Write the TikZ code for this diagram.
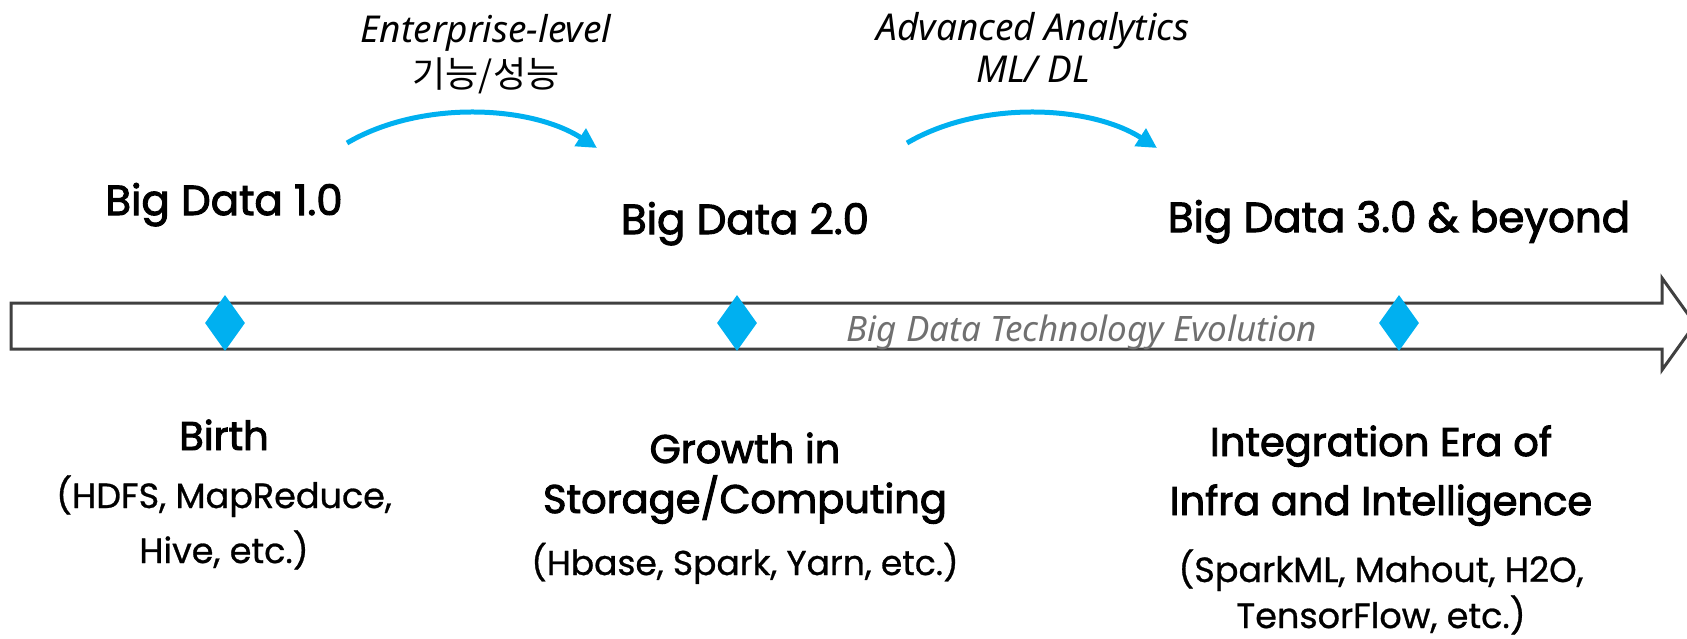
\documentclass[tikz,border=0pt]{standalone}
\usepackage{fontspec}
\setmainfont{Poppins}
\newfontfamily\heavyfont{Poppins}[FakeBold=2.4]
\newfontfamily\midfont{Poppins}[FakeBold=0.8]
\newfontfamily\labfont{Noto Sans}
\newfontfamily\krfont{Noto Sans CJK KR}
\usetikzlibrary{arrows.meta,shapes.geometric}
\definecolor{blu}{HTML}{00B0F0}
\definecolor{outl}{HTML}{404040}
\definecolor{gry}{HTML}{707070}
\tikzset{
  era/.style={anchor=base,inner sep=0pt,font=\heavyfont\fontsize{42}{48}\selectfont},
  head/.style={anchor=base,inner sep=0pt,font=\heavyfont\fontsize{40}{46}\selectfont},
  sub/.style={anchor=base,inner sep=0pt,font=\midfont\fontsize{35}{40}\selectfont},
  lab/.style={anchor=base,inner sep=0pt,font=\labfont\itshape\fontsize{37}{42}\selectfont},
  milestone/.style={shape=diamond,fill=blu,draw=none,inner sep=0pt,minimum width=40pt,minimum height=56pt},
  hop/.style={draw=blu,line width=5pt,-{Triangle[length=20pt,width=20pt]}},
}
\begin{document}
\begin{tikzpicture}[x=1pt,y=-1pt]
\useasboundingbox (0,0) rectangle (1687,638);
\clip (0,0) rectangle (1687,638);
% timeline arrow
\draw[outl,line width=3pt,line join=miter,fill=white]
  (11,303) -- (1662,303) -- (1662,278) -- (1695,324) -- (1662,370) -- (1662,349) -- (11,349) -- cycle;
\node[anchor=base,inner sep=0pt,text=gry,font=\labfont\itshape\fontsize{35}{40}\selectfont] (evo) at (1082,341) {Big Data Technology Evolution};
% milestones
\node[milestone] (m1) at (225,323) {};
\node[milestone] (m2) at (737,323) {};
\node[milestone] (m3) at (1399,323) {};
% era titles
\node[era] (e1) at (224,215) {Big Data 1.0};
\node[era] (e2) at (745,234) {Big Data 2.0};
\node[era] (e3) at (1399,232) {Big Data 3.0 \& beyond};
% transitions
\node[lab] (t1a) at (486,42) {Enterprise-level};
\node[anchor=base,inner sep=0pt,font=\krfont\fontsize{36}{40}\selectfont] (t1b) at (486,87) {기능/성능};
\node[lab] (t2a) at (1033,40) {Advanced Analytics};
\node[lab] (t2b) at (1033,82) {ML/ DL};
\coordinate (a1s) at (347,143);
\coordinate (a1e) at (597,148);
\coordinate (a2s) at (907,143);
\coordinate (a2e) at (1157,148);
\draw[hop] (a1s) .. controls (420,100) and (530,105) .. (a1e);
\draw[hop] (a2s) .. controls (980,100) and (1090,105) .. (a2e);
% descriptions
\node[head] (h1) at (224,450) {Birth};
\node[sub] (s1a) at (224,508) {(HDFS, MapReduce,};
\node[sub] (s1b) at (224,563) {Hive, etc.)};
\node[head] (h2a) at (745,463) {Growth in};
\node[head] (h2b) at (745,513) {Storage/Computing};
\node[sub,font=\midfont\fontsize{34.5}{40}\selectfont] (s2) at (745,575) {(Hbase, Spark, Yarn, etc.)};
\node[head] (h3a) at (1381,456) {Integration Era of};
\node[head] (h3b) at (1381,515) {Infra and Intelligence};
\node[sub] (s3a) at (1381,582) {(SparkML, Mahout, H2O,};
\node[sub] (s3b) at (1381,628) {TensorFlow, etc.)};
\end{tikzpicture}
\end{document}
